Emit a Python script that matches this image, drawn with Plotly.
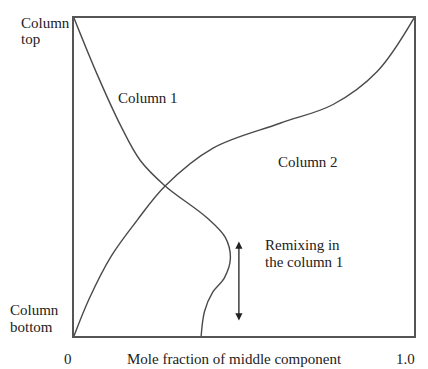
import plotly.graph_objects as go

# Column 1 composition profile (x: mole fraction, y: relative height, 0=bottom, 1=top)
col1_x = [0.0, 0.070, 0.138, 0.195, 0.268, 0.391, 0.445, 0.460, 0.442, 0.408, 0.384, 0.374]
col1_y = [1.0, 0.818, 0.660, 0.552, 0.472, 0.372, 0.310, 0.245, 0.182, 0.138, 0.078, 0.0]

# Column 2 composition profile
col2_x = [0.0, 0.045, 0.110, 0.185, 0.268, 0.409, 0.606, 0.762, 0.891, 1.0]
col2_y = [0.0, 0.118, 0.252, 0.363, 0.472, 0.591, 0.669, 0.728, 0.831, 1.0]

x_tick_labels = ["0", "1.0"]
x_title = "Mole fraction of middle component"
curve_labels = ["Column 1", "Column 2"]
remix_lines = ["Remixing in", "the column 1"]
top_label = ["Column", "top"]
bottom_label = ["Column", "bottom"]
remix_range = [0.044, 0.297]  # vertical extent of remixing zone (y)
remix_x = 0.485

FONT = dict(family="Liberation Serif", size=15, color="#222222")
LINE = dict(color="#4a4a4a", width=1.4, shape="spline", smoothing=1.0)

fig = go.Figure()
fig.add_trace(go.Scatter(x=col1_x, y=col1_y, mode="lines", line=LINE,
                         name=curve_labels[0], hoverinfo="skip"))
fig.add_trace(go.Scatter(x=col2_x, y=col2_y, mode="lines", line=LINE,
                         name=curve_labels[1], hoverinfo="skip"))

ann = []
def txt(x, y, t, xanchor="center"):
    ann.append(dict(x=x, y=y, xref="paper", yref="paper", text=t, showarrow=False,
                    xanchor=xanchor, yanchor="middle", font=FONT))

txt(0.218, 0.747, curve_labels[0])
txt(0.688, 0.547, curve_labels[1])
txt(0.556, 0.285, remix_lines[0], "left")
txt(0.556, 0.232, remix_lines[1], "left")
txt(-0.162, 0.984, top_label[0], "left")
txt(-0.162, 0.934, top_label[1], "left")
txt(-0.194, 0.081, bottom_label[0], "left")
txt(-0.194, 0.028, bottom_label[1], "left")
txt(-0.018, -0.072, x_tick_labels[0])
txt(0.974, -0.072, x_tick_labels[1])
txt(0.471, -0.072, x_title)

# double-headed arrow for remixing zone
ann.append(dict(x=remix_x, y=remix_range[1], ax=remix_x, ay=remix_range[0],
                xref="x", yref="y", axref="x", ayref="y", text="",
                showarrow=True, arrowhead=2, arrowside="end+start",
                arrowsize=1.1, arrowwidth=1.3, arrowcolor="#222222"))

# page body adds an 8px margin, so the figure is 8px smaller on each side
fig.update_layout(
    width=420, height=361,
    margin=dict(l=66, r=14, t=8, b=33),
    paper_bgcolor="white", plot_bgcolor="white",
    showlegend=False,
    annotations=ann,
    xaxis=dict(range=[0, 1], showgrid=False, zeroline=False, showticklabels=False,
               ticks="", showline=True, mirror=True, linecolor="#555555", linewidth=1.6),
    yaxis=dict(range=[0, 1], showgrid=False, zeroline=False, showticklabels=False,
               ticks="", showline=True, mirror=True, linecolor="#555555", linewidth=1.6),
)

fig.write_html("out.html")
